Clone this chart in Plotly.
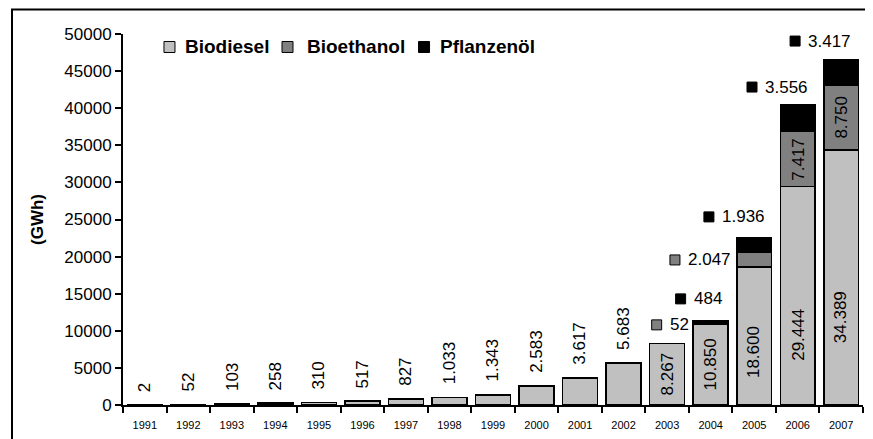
import plotly.graph_objects as go

jahre = [str(j) for j in range(1991, 2008)]

biodiesel = [2, 52, 103, 258, 310, 517, 827, 1033, 1343, 2583, 3617, 5683,
             8267, 10850, 18600, 29444, 34389]
bioethanol = [0, 0, 0, 0, 0, 0, 0, 0, 0, 0, 0, 0,
              52, 0, 2047, 7417, 8750]
pflanzenoel = [0, 0, 0, 0, 0, 0, 0, 0, 0, 0, 0, 0,
               0, 484, 1936, 3556, 3417]


def de(v):
    # deutsche Tausenderpunkte
    return f"{v:,}".replace(",", ".")


FONT = "Liberation Sans, Arial, sans-serif"
pos = list(range(len(jahre)))
serien = [
    ("Biodiesel", biodiesel, "#c0c0c0"),
    ("Bioethanol", bioethanol, "#808080"),
    ("Pflanzenöl", pflanzenoel, "#000000"),
]

fig = go.Figure()
for name, werte, farbe in serien:
    fig.add_trace(go.Bar(
        x=pos, y=werte, name=name,
        marker=dict(color=farbe, line=dict(color="black", width=1.5)),
        customdata=jahre,
        hovertemplate="%{customdata}: %{y}<extra>" + name + "</extra>",
    ))

ann = []
shapes = []
lab = dict(size=17, color="black", family=FONT)

# Werte über den Balken (nur Biodiesel bis 2002)
for i in range(12):
    ann.append(dict(x=i, y=biodiesel[i], text=de(biodiesel[i]),
                    textangle=-90, showarrow=False, yanchor="bottom",
                    yshift=11, font=lab))

# Werte im Balken (Biodiesel ab 2003), Anteil der Balkenhöhe
innen_pos = {12: 0.5, 13: 0.5, 14: 0.385, 15: 0.32, 16: 0.345}
for i, f in innen_pos.items():
    ann.append(dict(x=i, y=biodiesel[i] * f, text=de(biodiesel[i]),
                    textangle=-90, showarrow=False, font=lab))

# Bioethanol 2006/2007 im Balken
for i in (15, 16):
    ann.append(dict(x=i, y=biodiesel[i] + bioethanol[i] / 2,
                    text=de(bioethanol[i]), textangle=-90, showarrow=False,
                    font=lab))

# frei platzierte Beschriftungen mit Kästchen (Wert, Farbe, x-Pos, y-Pos)
frei = [
    (bioethanol[12], "#808080", 11.76, 10800),
    (pflanzenoel[13], "#000000", 12.31, 14300),
    (bioethanol[14], "#808080", 12.18, 19550),
    (pflanzenoel[14], "#000000", 12.96, 25350),
    (pflanzenoel[15], "#000000", 13.95, 42850),
    (pflanzenoel[16], "#000000", 14.94, 49050),
]
for wert, farbe, xp, yp in frei:
    shapes.append(dict(type="rect", xref="x", yref="y",
                       xsizemode="pixel", ysizemode="pixel",
                       xanchor=xp, yanchor=yp, x0=-5, x1=5, y0=-5, y1=5,
                       fillcolor=farbe, line=dict(color="black", width=1)))
    ann.append(dict(x=xp, y=yp, text=de(wert), showarrow=False,
                    xanchor="left", xshift=11, font=lab))

# Legende von Hand (Kästchen + fetter Text)
leg_x = [(0.0628, 0.0811), (0.2223, 0.2459), (0.4068, 0.4257)]
for (name, _, farbe), (xs, xt) in zip(serien, leg_x):
    shapes.append(dict(type="rect", xref="paper", yref="paper",
                       xsizemode="pixel", ysizemode="pixel",
                       xanchor=xs, yanchor=0.965, x0=-5.5, x1=5.5,
                       y0=-5.5, y1=5.5, fillcolor=farbe,
                       line=dict(color="black", width=1)))
    ann.append(dict(x=xt, y=0.965, xref="paper", yref="paper", text=name,
                    showarrow=False, xanchor="left", yanchor="middle",
                    font=dict(size=19, color="black", family=FONT,
                              weight="bold")))

# Rahmen um die Grafik
shapes.append(dict(type="rect", xref="paper", yref="paper",
                   x0=-0.15, x1=1.2, y0=-0.3, y1=1.066,
                   line=dict(color="black", width=2), layer="below"))

fig.update_layout(
    barmode="stack",
    bargap=0.2,
    width=873, height=439,
    margin=dict(l=115, r=18, t=26, b=42),
    paper_bgcolor="white",
    plot_bgcolor="white",
    font=dict(family=FONT, color="black"),
    showlegend=False,
    xaxis=dict(
        range=[-0.5, len(jahre) - 0.5], tickmode="array", tickvals=pos,
        ticktext=jahre, ticks="", showline=True, linecolor="black",
        linewidth=2, tickfont=dict(size=11), showgrid=False, zeroline=False,
        ticklabelstandoff=9,
        minor=dict(ticks="outside", tick0=-0.5, dtick=1, ticklen=6,
                   tickwidth=2, tickcolor="black", showgrid=False),
    ),
    yaxis=dict(
        range=[0, 50000], dtick=5000, tickformat="d", showline=True,
        linecolor="black", linewidth=2, ticks="outside", ticklen=6,
        tickwidth=1.5, tickcolor="black", tickfont=dict(size=17),
        showgrid=False, zeroline=False,
        title=dict(text="<b>(GWh)</b>", font=dict(size=17), standoff=16),
    ),
    annotations=ann,
    shapes=shapes,
)

fig.write_html("out.html")
